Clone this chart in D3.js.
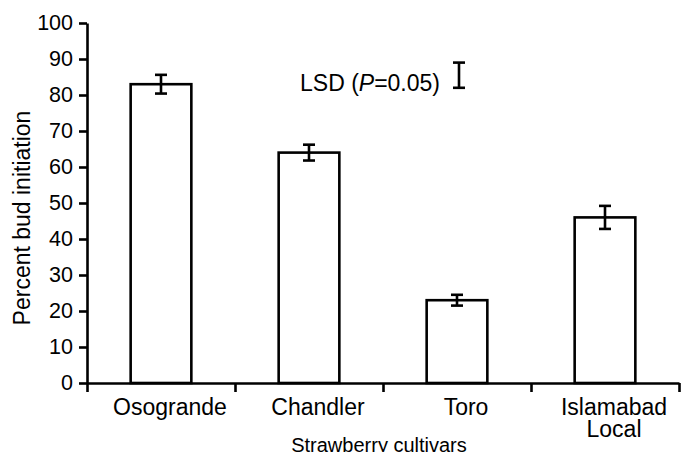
<!DOCTYPE html>
<html>
<head>
<meta charset="utf-8">
<script src="https://cdn.jsdelivr.net/npm/d3@7"></script>
<style>
  body { margin: 0; background: #fff; }
  text { font-family: "Liberation Sans", Arial, sans-serif; fill: #000; }
</style>
</head>
<body>
<div id="chart"></div>
<script>
// data
var cultivars = ["Osogrande", "Chandler", "Toro", "Islamabad Local"];
var budInit = [83, 64, 23, 46];
var budErr = [2.6, 2.2, 1.5, 3.2];
var yTicks = [0, 10, 20, 30, 40, 50, 60, 70, 80, 90, 100];
var lsdLow = 82, lsdHigh = 89;

var width = 681, height = 452;
// plot edges (note: "top" is reserved on window, so prefix them)
var plotLeft = 87, plotRight = 679, plotTop = 23, plotBottom = 383;

var svg = d3.select("#chart").append("svg")
    .attr("width", width)
    .attr("height", height);

var x = d3.scaleBand()
    .domain(cultivars)
    .range([plotLeft, plotRight])
    .paddingInner(0.59)
    .paddingOuter(0.295);

// band boundaries for the x ticks
var slot = d3.scaleLinear().domain([0, cultivars.length]).range([plotLeft, plotRight]);

var y = d3.scaleLinear()
    .domain([0, 100])
    .range([plotBottom, plotTop]);

// bars
svg.append("g").selectAll("rect")
    .data(budInit)
    .enter().append("rect")
    .attr("x", function (d, i) { return x(cultivars[i]); })
    .attr("y", function (d) { return y(d); })
    .attr("width", x.bandwidth())
    .attr("height", function (d) { return y(0) - y(d); })
    .attr("fill", "#fff")
    .attr("stroke", "#000")
    .attr("stroke-width", 2.6);

// error bars
var cap = 6;
var eb = svg.append("g").attr("stroke", "#000").attr("stroke-width", 2.6);
budInit.forEach(function (d, i) {
    var cx = x(cultivars[i]) + x.bandwidth() / 2;
    var lo = y(d - budErr[i]), hi = y(d + budErr[i]);
    eb.append("line").attr("x1", cx).attr("x2", cx).attr("y1", lo).attr("y2", hi);
    eb.append("line").attr("x1", cx - cap).attr("x2", cx + cap).attr("y1", lo).attr("y2", lo);
    eb.append("line").attr("x1", cx - cap).attr("x2", cx + cap).attr("y1", hi).attr("y2", hi);
});

// LSD marker
var lx = 459;
eb.append("line").attr("x1", lx).attr("x2", lx).attr("y1", y(lsdLow)).attr("y2", y(lsdHigh));
eb.append("line").attr("x1", lx - cap).attr("x2", lx + cap).attr("y1", y(lsdLow)).attr("y2", y(lsdLow));
eb.append("line").attr("x1", lx - cap).attr("x2", lx + cap).attr("y1", y(lsdHigh)).attr("y2", y(lsdHigh));

var lsd = svg.append("text")
    .attr("x", 300)
    .attr("y", 91)
    .attr("font-size", 23);
lsd.append("tspan").text("LSD (");
lsd.append("tspan").attr("font-style", "italic").text("P");
lsd.append("tspan").text("=0.05)");

// y axis
var yAxis = svg.append("g")
    .attr("transform", "translate(" + plotLeft + ",0)")
    .call(d3.axisLeft(y).tickValues(yTicks).tickSize(8).tickSizeOuter(0).tickPadding(6));
yAxis.selectAll("text")
    .attr("font-size", 21.5)
    .attr("font-family", "Liberation Sans, Arial, sans-serif");

// x axis
var xAxis = svg.append("g")
    .attr("transform", "translate(0," + plotBottom + ")")
    .call(d3.axisBottom(slot).tickValues(d3.range(cultivars.length + 1)).tickSize(9).tickSizeOuter(0).tickFormat(""));

svg.selectAll(".domain, .tick line")
    .attr("stroke", "#000")
    .attr("stroke-width", 2.6);

// category labels
svg.append("g").selectAll("text")
    .data(cultivars)
    .enter().append("text")
    .attr("text-anchor", "middle")
    .attr("font-size", 23)
    .attr("transform", function (d) { return "translate(" + (x(d) + x.bandwidth() / 2 + 9) + ",415)"; })
    .each(function (d) {
        var words = d.split(" ");
        var t = d3.select(this);
        words.forEach(function (w, k) {
            t.append("tspan").attr("x", 0).attr("dy", k === 0 ? 0 : 22).text(w);
        });
    });

// axis titles
svg.append("text")
    .attr("x", (plotLeft + plotRight) / 2 - 4)
    .attr("y", 452)
    .attr("text-anchor", "middle")
    .attr("font-size", 20)
    .text("Strawberry cultivars");

svg.append("text")
    .attr("transform", "translate(30," + ((plotTop + plotBottom) / 2 + 15) + ") rotate(-90)")
    .attr("text-anchor", "middle")
    .attr("font-size", 23)
    .text("Percent bud initiation");
</script>
</body>
</html>
